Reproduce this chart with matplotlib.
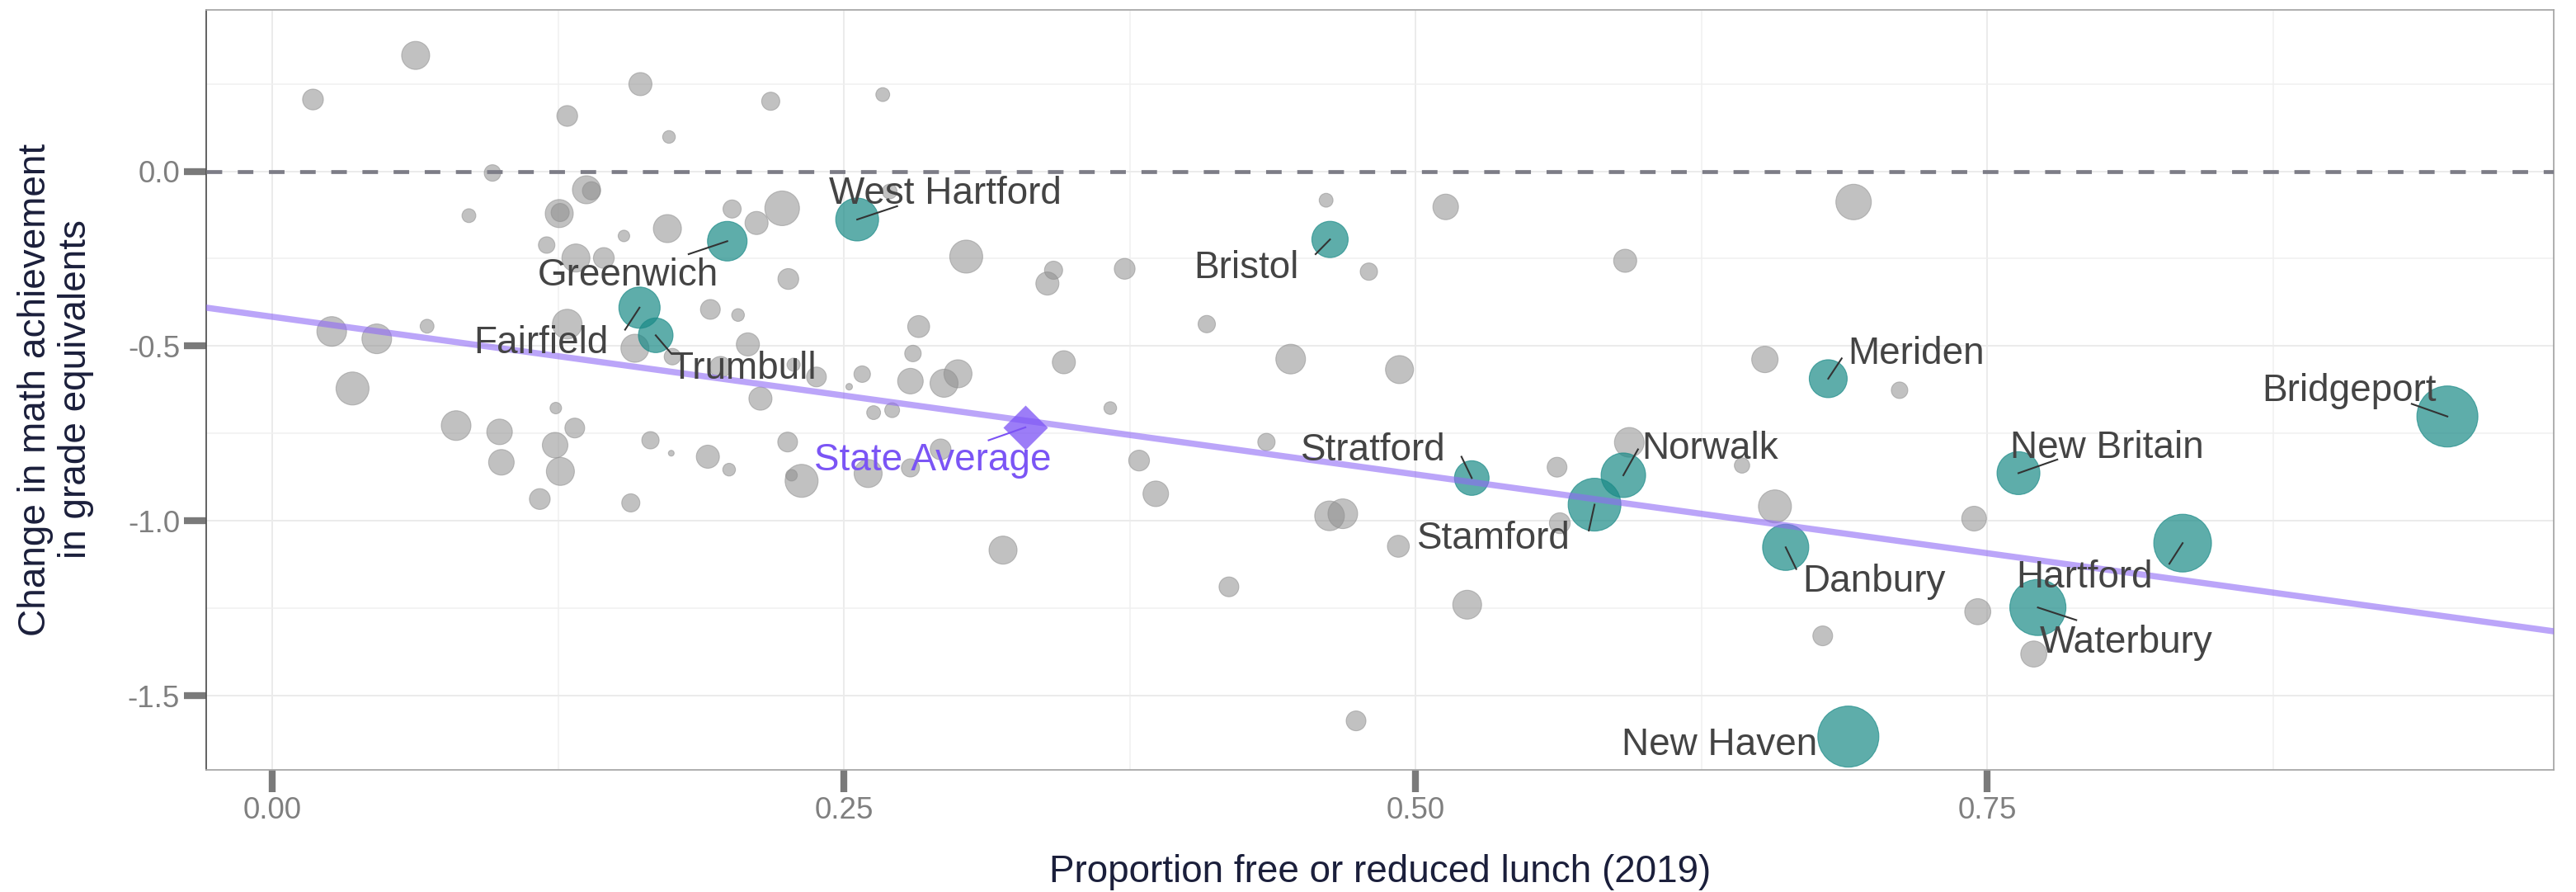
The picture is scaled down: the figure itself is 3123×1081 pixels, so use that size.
import matplotlib
matplotlib.use("Agg")
import matplotlib.pyplot as plt
from matplotlib.ticker import FixedLocator, FormatStrFormatter

plt.rcParams["font.family"] = ["Liberation Sans", "DejaVu Sans"]
plt.rcParams["axes.unicode_minus"] = False

DPI = 100

# other districts (grey bubbles): free/reduced lunch share, change in math, bubble radius (px)
other_frl = [0.0627, 0.0178, 0.161, 0.129, 0.1735, 0.218, 0.267, 0.0963, 0.1374, 0.1396,
             0.1255, 0.1259, 0.086, 0.120, 0.1538, 0.1728, 0.2011, 0.2118, 0.223, 0.270,
             0.1328, 0.145, 0.2257, 0.1916, 0.2037, 0.129, 0.0677, 0.026, 0.0457, 0.1586,
             0.175, 0.196, 0.208, 0.228, 0.238, 0.0351, 0.258, 0.2523, 0.2135, 0.124,
             0.0804, 0.0994, 0.1323, 0.1237, 0.1002, 0.126, 0.1654, 0.1745, 0.1905, 0.1998,
             0.2254, 0.2315, 0.2271, 0.2606, 0.117, 0.1568, 0.3035, 0.3417, 0.339, 0.3728,
             0.4609, 0.4796, 0.5132, 0.5917, 0.2827, 0.4087, 0.2802, 0.2791, 0.2938, 0.2999,
             0.3462, 0.4454, 0.4930, 0.2630, 0.2711, 0.3665, 0.4348, 0.3791, 0.2923, 0.2791,
             0.5619, 0.5935, 0.5631, 0.3864, 0.3196, 0.4624, 0.4682, 0.4925, 0.4184, 0.5226,
             0.4740, 0.6916, 0.6528, 0.7117, 0.6428, 0.6572, 0.7443, 0.7459, 0.6781, 0.7704]
other_change = [0.331, 0.205, 0.249, 0.158, 0.098, 0.200, 0.219, -0.005, -0.053, -0.056,
                -0.121, -0.118, -0.127, -0.211, -0.185, -0.164, -0.108, -0.148, -0.106, -0.058,
                -0.248, -0.248, -0.308, -0.395, -0.411, -0.437, -0.443, -0.458, -0.479, -0.506,
                -0.530, -0.560, -0.495, -0.553, -0.588, -0.621, -0.580, -0.616, -0.650, -0.677,
                -0.727, -0.745, -0.734, -0.783, -0.832, -0.858, -0.769, -0.806, -0.816, -0.853,
                -0.774, -0.885, -0.869, -0.864, -0.937, -0.948, -0.244, -0.283, -0.321, -0.279,
                -0.083, -0.287, -0.102, -0.256, -0.444, -0.437, -0.521, -0.600, -0.606, -0.579,
                -0.546, -0.537, -0.567, -0.690, -0.683, -0.677, -0.774, -0.827, -0.795, -0.848,
                -0.846, -0.775, -1.006, -0.922, -1.083, -0.985, -0.979, -1.072, -1.188, -1.239,
                -1.571, -0.088, -0.538, -0.626, -0.841, -0.958, -0.993, -1.259, -1.328, -1.380]
other_size = [17, 12.6, 14, 12.6, 7.7, 11, 8.4, 10, 17, 11,
              17, 11, 8.4, 10, 7, 17, 11, 14, 21, 9,
              17, 12.6, 12.6, 12, 7.7, 18, 8.4, 18, 18, 17,
              10, 13, 14, 8, 12, 20, 10, 4, 14, 7,
              18, 15.5, 12, 15.5, 15.5, 17, 10.5, 3.5, 14, 7.7,
              12, 20, 7, 17, 12.6, 11, 20, 11, 14, 12.6,
              8.4, 10.5, 15.5, 14, 13.3, 10.5, 10, 15.5, 17, 17,
              14, 18, 17, 8.4, 9, 7.7, 10.5, 12.6, 12.6, 11,
              12, 18, 12.6, 15.5, 17, 18, 18, 13.3, 12, 17.5,
              12, 21.5, 16, 10, 9.3, 20, 15, 15.8, 12, 15.8]

# highlighted districts
city_names = ["Greenwich", "West Hartford", "Fairfield", "Trumbull", "Bristol", "Stratford",
              "Norwalk", "Stamford", "Meriden", "Bridgeport", "New Britain", "Danbury",
              "Hartford", "Waterbury", "New Haven"]
city_frl = [0.199, 0.2558, 0.1606, 0.1677, 0.4626, 0.5246,
            0.5909, 0.5783, 0.6805, 0.9513, 0.7637, 0.6619,
            0.8355, 0.7722, 0.6893]
city_change = [-0.200, -0.138, -0.390, -0.469, -0.195, -0.877,
               -0.869, -0.953, -0.593, -0.701, -0.863, -1.075,
               -1.063, -1.247, -1.616]
city_size = [24, 26, 25, 21, 22, 21, 27, 32, 23, 37, 26, 28, 35, 34, 37]

# repelled label positions (text centre x, baseline y) and leader ends
label_x = [0.1555, 0.2942, 0.1176, 0.2061, 0.4261, 0.4814,
           0.6288, 0.5343, 0.7190, 0.9083, 0.8024, 0.7007,
           0.7926, 0.8107, 0.6328]
label_y = [-0.326, -0.092, -0.519, -0.593, -0.305, -0.827,
           -0.821, -1.079, -0.551, -0.657, -0.820, -1.202,
           -1.190, -1.377, -1.668]
seg_x = [0.1821, 0.2733, 0.1543, 0.1745, 0.4563, 0.5201,
         0.5973, 0.5758, 0.6864, 0.9357, 0.7807, 0.6665,
         0.8297, 0.7890, None]
seg_y = [-0.237, -0.100, -0.453, -0.521, -0.237, -0.816,
         -0.795, -1.027, -0.535, -0.665, -0.824, -1.137,
         -1.122, -1.283, None]

# state average and fitted line
state_frl = 0.3294
state_change = -0.732
state_label_x, state_label_y = 0.2888, -0.856
state_seg_x, state_seg_y = 0.3133, -0.769
trend_x = [-0.03, 1.0]
trend_y = [-0.389, -1.317]


def px_to_s(r):
    # radius in pixels -> scatter area in pt^2
    d = 2 * r * 72 / DPI
    return d * d


fig = plt.figure(figsize=(31.23, 10.81), dpi=DPI)
ax = fig.add_axes([0.08005, 0.13645, 0.91130, 0.85245])

ax.set_xlim(-0.0289, 0.9978)
ax.set_ylim(-1.7123, 0.4611)

ax.xaxis.set_major_locator(FixedLocator([0.0, 0.25, 0.5, 0.75]))
ax.xaxis.set_minor_locator(FixedLocator([0.125, 0.375, 0.625, 0.875]))
ax.yaxis.set_major_locator(FixedLocator([-1.5, -1.0, -0.5, 0.0]))
ax.yaxis.set_minor_locator(FixedLocator([-1.25, -0.75, -0.25, 0.25]))
ax.xaxis.set_major_formatter(FormatStrFormatter("%.2f"))
ax.yaxis.set_major_formatter(FormatStrFormatter("%.1f"))

ax.set_axisbelow(True)
ax.grid(which="major", color="#ebebeb", lw=1.4)
ax.grid(which="minor", color="#f0f0f0", lw=1.1)
ax.tick_params(which="major", length=19.5, width=6, color="#7a7a7a", pad=3.5,
               labelsize=26.5, labelcolor="#7f7f7f")
ax.tick_params(which="minor", length=0)

for side in ["top", "right", "bottom"]:
    ax.spines[side].set_color("#a8a8a8")
    ax.spines[side].set_linewidth(1.3)
ax.spines["left"].set_color("#555555")
ax.spines["left"].set_linewidth(1.3)

ax.axhline(0, color="#7d7d87", lw=3.4, dashes=(4, 4), zorder=3)

ax.scatter(other_frl, other_change, s=[px_to_s(r) for r in other_size],
           color="#8f8f8f", alpha=0.55, edgecolors="#8f8f8f", linewidths=0.8, zorder=2)
ax.scatter(city_frl, city_change, s=[px_to_s(r) for r in city_size],
           color="#1a8a87", alpha=0.7, edgecolors="#1a8a87", linewidths=0.8, zorder=4)

ax.plot(trend_x, trend_y, color="#8f6af5", alpha=0.6, lw=5.4,
        solid_capstyle="butt", zorder=5)

ax.scatter([state_frl], [state_change], marker="D", s=756, color="#7b52f5",
           alpha=0.75, linewidths=0, zorder=6)

for i, name in enumerate(city_names):
    if seg_x[i] is not None:
        ax.plot([city_frl[i], seg_x[i]], [city_change[i], seg_y[i]],
                color="#333333", lw=1.5, zorder=7)
    ax.text(label_x[i], label_y[i], name, ha="center", va="baseline",
            fontsize=33, color="#444444", zorder=8)

ax.plot([state_frl, state_seg_x], [state_change, state_seg_y],
        color="#7b52f5", lw=1.5, zorder=7)
ax.text(state_label_x, state_label_y, "State Average", ha="center", va="baseline",
        fontsize=33, color="#7b55f5", zorder=8)

fig.text(0.5357, 0.022, "Proportion free or reduced lunch (2019)", ha="center",
         va="center", fontsize=33, color="#1b1f3b")
fig.text(0.0215, 0.5634, "Change in math achievement\nin grade equivalents", ha="center",
         va="center", rotation=90, fontsize=33, color="#1b1f3b",
         multialignment="center", linespacing=1.15)

fig.savefig("out.png", dpi=DPI)
plt.close(fig)
